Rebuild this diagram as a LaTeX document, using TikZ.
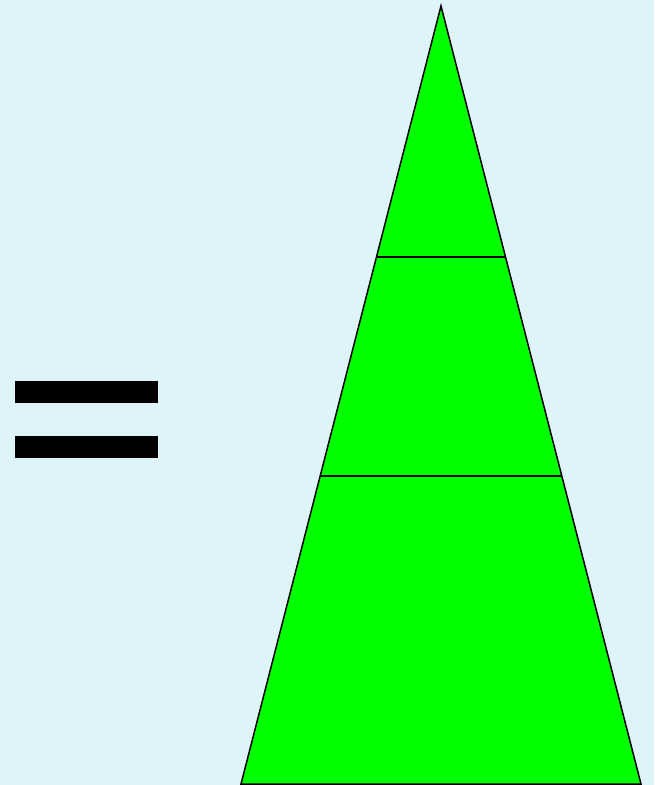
\documentclass[tikz,border=0pt]{standalone}
\usetikzlibrary{calc}
\definecolor{bgc}{RGB}{223,244,249}
\definecolor{trig}{RGB}{0,255,0}
\tikzset{edge/.style={draw=black,line width=1.5pt,line join=miter},
  bar/.style={fill=black}}
\begin{document}
\begin{tikzpicture}[x=1pt,y=-1pt]
\fill[bgc] (0,0) rectangle (654,785);
\useasboundingbox (0,0) rectangle (654,785);
\coordinate (apex) at (441,6);
\coordinate (bl) at (241,784);
\coordinate (br) at (641,784);
\filldraw[fill=trig,edge] (apex) -- (br) -- (bl) -- cycle;
\coordinate (l1) at ($(apex)!0.3226!(bl)$);
\coordinate (r1) at ($(apex)!0.3226!(br)$);
\coordinate (l2) at ($(apex)!0.6041!(bl)$);
\coordinate (r2) at ($(apex)!0.6041!(br)$);
\draw[edge] (l1) -- (r1);
\draw[edge] (l2) -- (r2);
\fill[bar] (15,381) rectangle (158,403);
\fill[bar] (15,436) rectangle (158,458);
\end{tikzpicture}
\end{document}
